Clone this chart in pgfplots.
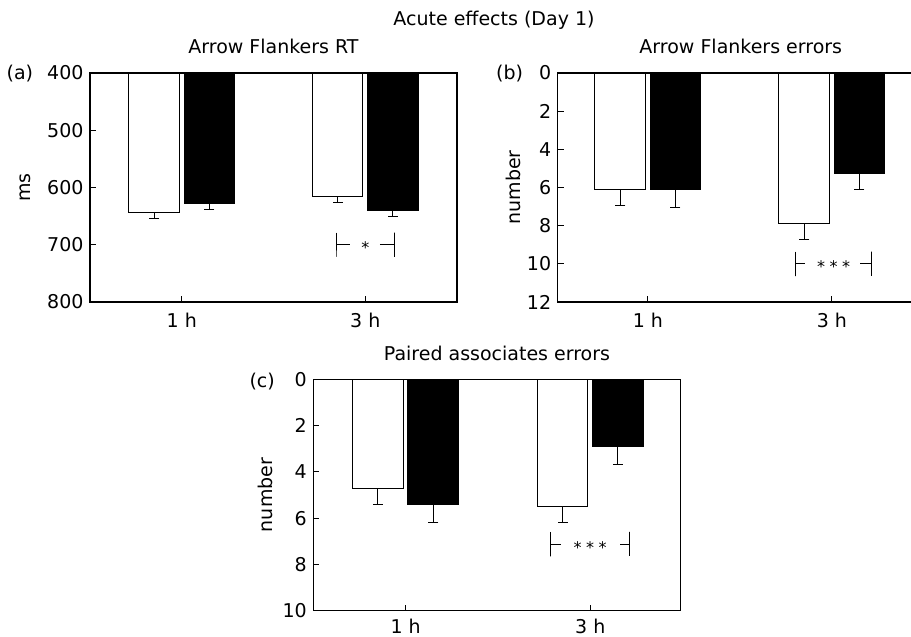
\documentclass[border=0pt]{standalone}
\usepackage{fontspec}
\setmainfont{DejaVu Sans}
\usepackage{pgfplots}
\pgfplotsset{compat=1.18}

\newcommand\fs{\fontsize{19}{22}\selectfont}
\newcommand\stars[1]{{\fontsize{16}{18}\selectfont #1}}

\pgfplotsset{
  panel/.style={
    scale only axis,
    axis on top,
    enlargelimits=false,
    y dir=reverse,
    xtick={1,2}, xticklabels={1 h, 3 h},
    tick pos=left, tick align=inside,
    major tick length=6pt,
    axis line style={line width=1.2pt},
    every tick/.style={black, line width=1pt},
    /pgf/number format/assume math mode=true,
    tick label style={font=\fs},
    label style={font=\fs},
    title style={font=\fs, anchor=base, at={(axis description cs:0.5,1)}, yshift=13pt},
    bar width=0.275,
  },
  % bars sit at 1-0.15 / 1+0.15 and 2-0.15 / 2+0.15
  onebar/.style={ybar, bar shift=0pt, draw=black, line width=1pt,
    error bars/.cd, y dir=plus, y explicit,
    error bar style={line width=1pt},
    error mark options={rotate=90, line width=1pt, mark size=5pt}},
  openbar/.style={fill=white, onebar},
  fullbar/.style={fill=black, onebar},
  sig/.style={black, line width=1pt, forget plot},
}

\begin{document}
\fs
\begin{tikzpicture}[font=\fs]
\useasboundingbox (0pt,0pt) rectangle (911pt,637pt);

\node[anchor=base] at (494pt,611pt) {Acute effects (Day 1)};

% (a) Arrow Flankers RT
\begin{axis}[panel, at={(90pt,335pt)}, anchor=south west,
    width=367pt, height=229pt,
    xmin=0.5, xmax=2.5, ymin=400, ymax=800,
    ytick={400,500,600,700,800},
    xticklabel style={inner sep=0pt, yshift=-11pt},
    title={Arrow Flankers RT},
    ylabel={ms},
    ylabel style={at={(axis description cs:-0.177,0.5)}, anchor=center}]
  \addplot[openbar] coordinates {(0.85,643) +- (0,12) (1.85,615) +- (0,11)};
  \addplot[fullbar] coordinates {(1.15,628) +- (0,11) (2.15,640) +- (0,11)};
  \addplot[sig] coordinates {(1.846,679) (1.846,721) (1.846,700) (1.917,700)};
  \addplot[sig] coordinates {(2.08,700) (2.162,700) (2.162,679) (2.162,721)};
  \node[anchor=base, yshift=-9pt] at (axis cs:2,700) {\stars{*}};
\end{axis}
\node[anchor=east, inner sep=0pt] at (33.3pt,563pt) {(a)};

% (b) Arrow Flankers errors
\begin{axis}[panel, at={(557.7pt,335pt)}, anchor=south west,
    width=366.2pt, height=229pt,
    xmin=0.51, xmax=2.5, ymin=0, ymax=12,
    ytick={0,2,...,12},
    xticklabel style={inner sep=0pt, yshift=-11pt},
    title={Arrow Flankers errors},
    ylabel={number},
    ylabel style={at={(axis description cs:-0.1215,0.5)}, anchor=center}]
  \addplot[openbar] coordinates {(0.85,6.1) +- (0,0.84) (1.85,7.9) +- (0,0.84)};
  \addplot[fullbar] coordinates {(1.15,6.1) +- (0,0.95) (2.15,5.25) +- (0,0.84)};
  \addplot[sig] coordinates {(1.80,9.36) (1.80,10.64) (1.80,10) (1.855,10)};
  \addplot[sig] coordinates {(2.154,10) (2.217,10) (2.217,9.36) (2.217,10.64)};
  \node[anchor=base, yshift=-9pt] at (axis cs:2.01,10) {\stars{*\kern4.5pt*\kern4.5pt*}};
\end{axis}
\node[anchor=east, inner sep=0pt] at (523.3pt,563pt) {(b)};

% (c) Paired associates errors
\begin{axis}[panel, at={(313.3pt,26.3pt)}, anchor=south west,
    width=367.4pt, height=231.4pt,
    xmin=0.5, xmax=2.49, ymin=0, ymax=10,
    ytick={0,2,...,10},
    xticklabel style={inner sep=0pt, yshift=-8pt},
    title={Paired associates errors},
    ylabel={number},
    ylabel style={at={(axis description cs:-0.129,0.5)}, anchor=center}]
  \addplot[openbar] coordinates {(0.85,4.7) +- (0,0.7) (1.85,5.5) +- (0,0.7)};
  \addplot[fullbar] coordinates {(1.15,5.4) +- (0,0.8) (2.15,2.9) +- (0,0.8)};
  \addplot[sig] coordinates {(1.787,6.59) (1.787,7.65) (1.787,7.12) (1.84,7.12)};
  \addplot[sig] coordinates {(2.163,7.12) (2.212,7.12) (2.212,6.59) (2.212,7.65)};
  \node[anchor=base, yshift=-9pt] at (axis cs:2.0,7.12) {\stars{*\kern4.5pt*\kern4.5pt*}};
\end{axis}
\node[anchor=east, inner sep=0pt] at (275pt,255pt) {(c)};
\end{tikzpicture}
\end{document}
